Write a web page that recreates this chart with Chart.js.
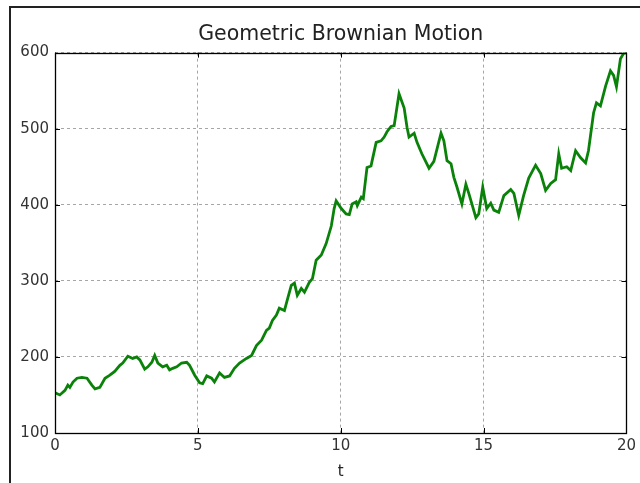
<!DOCTYPE html>
<html><head><meta charset="utf-8">
<script src="https://cdn.jsdelivr.net/npm/chart.js@4"></script>
<style>
html,body{margin:0;padding:0;background:#fff;}
#wrap{position:relative;width:640px;height:483px;overflow:hidden;}
#frame{position:absolute;left:9px;top:6px;width:640px;height:483px;border-left:2px solid #222;border-top:2px solid #222;pointer-events:none;}
</style></head><body>
<div id="wrap"><canvas id="c" width="640" height="483"></canvas><div id="frame"></div></div>
<script>
const titleText = "Geometric Brownian Motion";
const xLabel = "t";
const xTicks = [0, 5, 10, 15, 20];
const yTicks = [100, 200, 300, 400, 500, 600];
const tValues = [0,0.17,0.35,0.45,0.52,0.63,0.77,0.94,1.12,1.29,1.40,1.57,1.75,1.92,2.09,2.27,2.37,2.55,2.72,2.86,2.97,3.14,3.25,3.39,3.49,3.60,3.77,3.91,4.01,4.12,4.26,4.43,4.61,4.71,4.89,5.06,5.17,5.31,5.48,5.58,5.76,5.93,6.11,6.28,6.46,6.70,6.88,7.05,7.23,7.40,7.50,7.61,7.75,7.85,8.03,8.13,8.27,8.38,8.48,8.62,8.73,8.90,9.01,9.14,9.32,9.49,9.67,9.77,9.84,10.02,10.19,10.30,10.40,10.54,10.58,10.72,10.79,10.92,11.06,11.10,11.24,11.41,11.52,11.62,11.76,11.87,12.04,12.22,12.32,12.39,12.57,12.67,12.84,13.09,13.26,13.51,13.61,13.72,13.86,13.96,14.07,14.24,14.38,14.49,14.73,14.83,14.97,15.11,15.25,15.36,15.53,15.71,15.95,16.06,16.23,16.40,16.58,16.82,17.00,17.17,17.35,17.52,17.63,17.73,17.91,18.05,18.22,18.39,18.57,18.67,18.85,18.95,19.09,19.27,19.44,19.55,19.65,19.79,19.90,20.00];
const prices = [153,150,156,163,160,167,172,173,172,163,158,160,172,176,181,189,192,201,198,200,196,184,187,193,202,192,187,189,183,185,187,192,193,189,176,166,165,175,172,167,179,173,175,185,192,198,202,215,222,235,238,248,255,264,261,275,294,297,281,290,285,298,303,327,334,349,372,395,405,395,388,387,401,404,399,410,408,449,451,458,482,484,489,496,503,504,546,527,502,489,494,482,467,448,457,494,484,458,454,436,423,401,427,414,383,388,423,395,402,393,390,412,420,415,386,412,435,452,441,419,428,433,467,448,450,445,471,462,455,471,521,534,530,556,576,570,555,592,599,600];

const points = tValues.map((t, i) => ({x: t, y: prices[i]}));

const boxPlugin = {
  id: 'box',
  afterDraw(chart) {
    const ctx = chart.ctx, a = chart.chartArea;
    const xs = chart.scales.x, ys = chart.scales.y;
    ctx.save();
    ctx.strokeStyle = '#000';
    ctx.lineWidth = 1;
    ctx.setLineDash([]);
    ctx.beginPath();
    const tl = 5;
    xs.ticks.forEach(tk => {
      const px = Math.round(xs.getPixelForValue(tk.value)) + 0.5;
      ctx.moveTo(px, a.bottom); ctx.lineTo(px, a.bottom - tl);
      ctx.moveTo(px, a.top); ctx.lineTo(px, a.top + tl);
    });
    ys.ticks.forEach(tk => {
      const py = Math.round(ys.getPixelForValue(tk.value)) + 0.5;
      ctx.moveTo(a.left, py); ctx.lineTo(a.left + tl, py);
      ctx.moveTo(a.right, py); ctx.lineTo(a.right - tl, py);
    });
    ctx.stroke();
    ctx.lineWidth = 1.3;
    ctx.strokeRect(Math.round(a.left) + 0.5, Math.round(a.top) + 0.5, Math.round(a.right - a.left), Math.round(a.bottom - a.top));
    ctx.restore();
  }
};

new Chart(document.getElementById('c'), {
  type: 'line',
  data: {
    datasets: [{
      data: points,
      borderColor: '#0a820a',
      borderWidth: 2.8,
      pointRadius: 0,
      tension: 0,
      fill: false
    }]
  },
  options: {
    responsive: false,
    animation: false,
    devicePixelRatio: 1,
    layout: { padding: { left: 0, right: 12, top: 0, bottom: 0 } },
    plugins: {
      legend: { display: false },
      tooltip: { enabled: false },
      title: {
        display: true,
        fullSize: false,
        text: titleText,
        color: '#222',
        font: { family: 'DejaVu Sans', size: 20.5, weight: 'normal' },
        padding: { top: 22, bottom: 6 }
      }
    },
    scales: {
      x: {
        type: 'linear',
        min: 0, max: 20,
        afterBuildTicks: s => { s.ticks = xTicks.map(v => ({value: v})); },
        ticks: { color: '#333', font: { family: 'DejaVu Sans', size: 15 }, padding: 4, maxRotation: 0 },
        grid: { color: 'rgba(0,0,0,0.35)', lineWidth: 1, drawTicks: false },
        border: { display: false, dash: [3, 3] },
        title: { display: true, text: xLabel, color: '#222', font: { family: 'DejaVu Sans', size: 15 }, padding: { top: 2, bottom: 2 } },
        afterFit: s => { s.height = 50; }
      },
      y: {
        min: 100, max: 600,
        afterBuildTicks: s => { s.ticks = yTicks.map(v => ({value: v})); },
        ticks: { color: '#333', font: { family: 'DejaVu Sans', size: 15 }, padding: 6 },
        grid: { color: 'rgba(0,0,0,0.35)', lineWidth: 1, drawTicks: false },
        border: { display: false, dash: [3, 3] },
        afterFit: s => { s.width = 55; }
      }
    }
  },
  plugins: [boxPlugin]
});
</script>
</body></html>
